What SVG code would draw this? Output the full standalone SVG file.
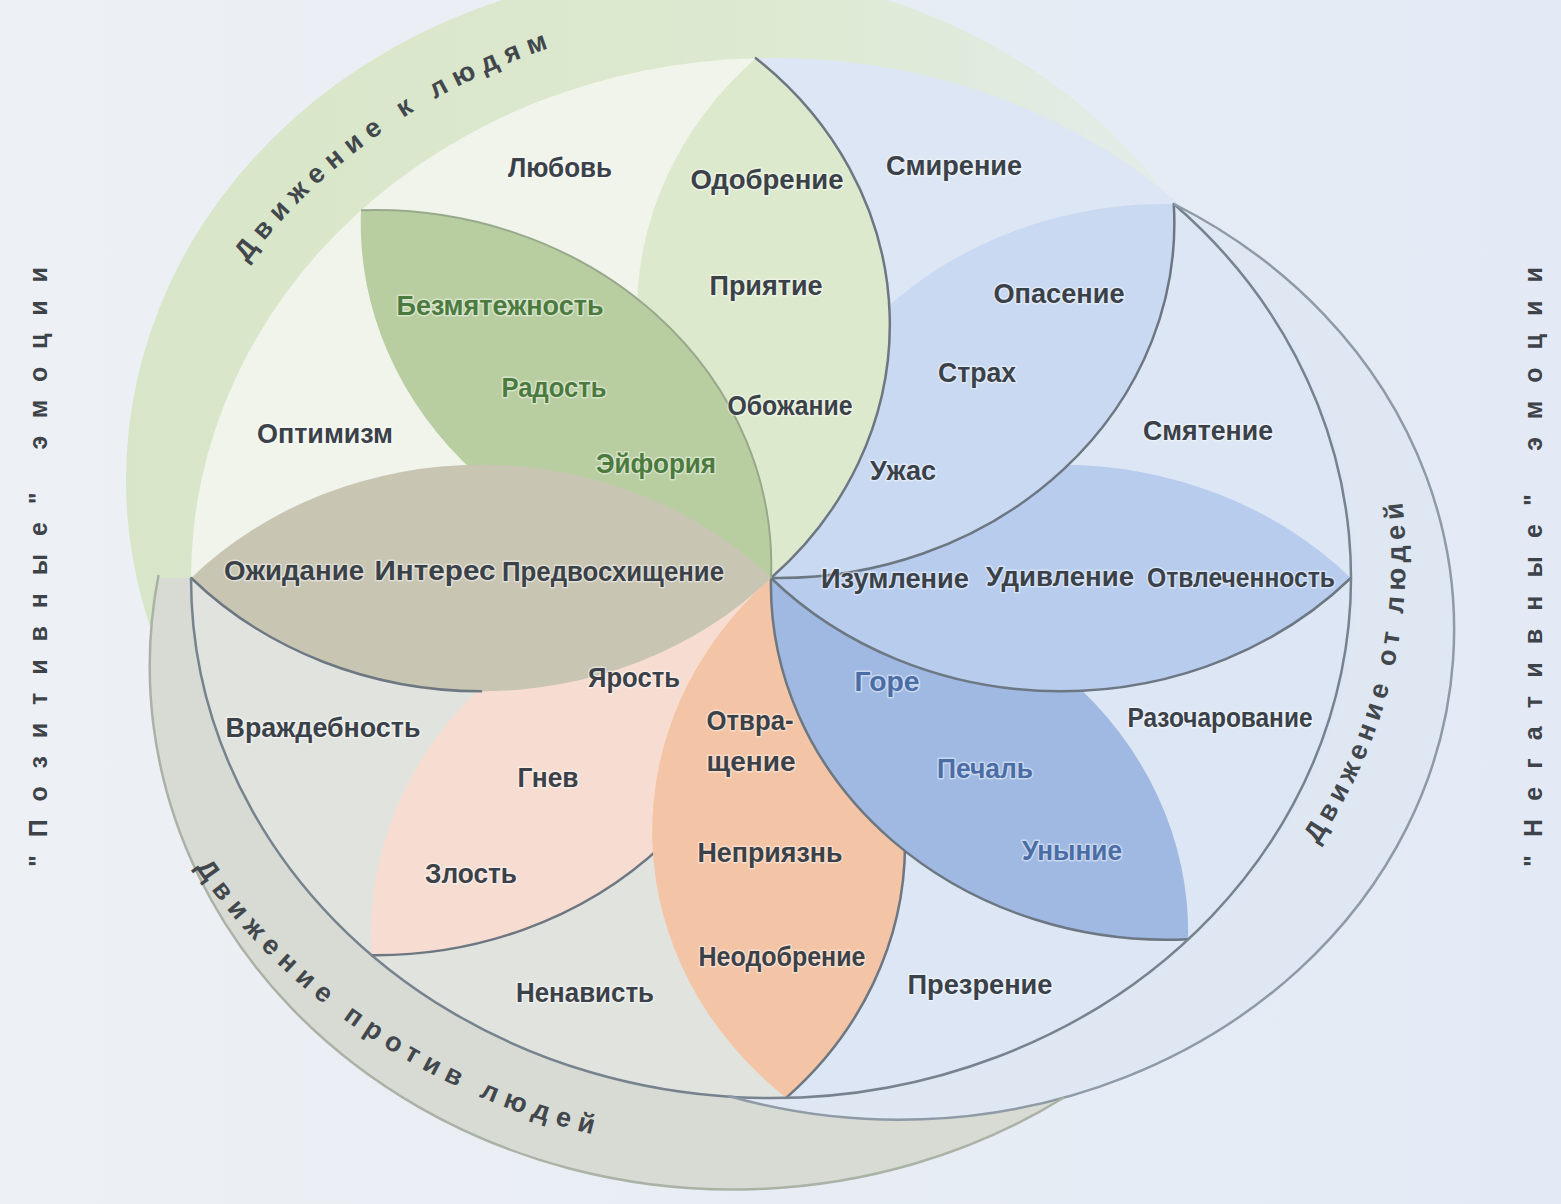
<svg xmlns="http://www.w3.org/2000/svg" width="1561" height="1204" viewBox="0 0 1561 1204">
<defs>
<style>
.lbl{font-family:"Liberation Sans",Arial,sans-serif;font-weight:bold;font-size:27px;fill:#3a4148;text-anchor:middle;stroke:#ffffff;stroke-width:3px;stroke-opacity:0.45;paint-order:stroke;stroke-linejoin:round}
.gr{fill:#4b7a3e}
.bl{fill:#4a6da6}
.curve{font-family:"Liberation Sans",Arial,sans-serif;font-weight:bold;font-size:27px;fill:#41474c}
.side{font-family:"Liberation Sans",Arial,sans-serif;font-weight:bold;font-size:25px;fill:#3d4349}
.edge{fill:none;stroke:#6c7782;stroke-width:2.5;vector-effect:non-scaling-stroke;stroke-linecap:round}
.soft{fill:none;stroke:#97a98a;stroke-width:2;vector-effect:non-scaling-stroke}
.ring{fill:none;stroke-width:2.5}
</style>
<linearGradient id="bg" x1="0" y1="0" x2="1" y2="0">
<stop offset="0" stop-color="#edf0f4"/><stop offset="1" stop-color="#e3eaf5"/>
</linearGradient>
<linearGradient id="greenband" gradientUnits="userSpaceOnUse" x1="120" y1="0" x2="1200" y2="0">
<stop offset="0" stop-color="#d5e4c3"/><stop offset="0.6" stop-color="#dce9cc"/><stop offset="1" stop-color="#e4ecea"/>
</linearGradient>
<clipPath id="clipTop"><rect x="0" y="0" width="1561" height="640"/></clipPath>
<clipPath id="clipBottom"><rect x="0" y="578" width="1561" height="626"/></clipPath>
<path id="petal" d="M0,0 A355,355 0 0,1 520,0 A355,355 0 0,1 0,0 Z"/>
<path id="pTo" d="M182,375 A631,566 0 0,1 683,17.5"/>
<path id="pAgainst" d="M136,757 A676,606 0 0,0 724,1154.5"/>
<path id="pFrom" d="M1247.4,929.4 A615.5,552 0 0,0 1375.4,389.4"/>
</defs>

<rect width="1561" height="1204" fill="url(#bg)"/>

<g id="circle-toward">
<ellipse cx="695" cy="480" rx="569" ry="510" fill="url(#greenband)" opacity="0.9" clip-path="url(#clipTop)"/>
</g>
<g id="circle-against">
<ellipse cx="733.4" cy="666" rx="583.7" ry="523.5" fill="#d8dbd3" clip-path="url(#clipBottom)"/>
</g>
<g id="circle-away">
<path d="M1173.9,204 A555,490 0 0,1 728.5,1096 A580,520 0 0,0 1173.9,204 Z" fill="#dfe7f3"/>
</g>

<g id="wheel-interior">
<path d="M771,578 L191,578 A580,520 0 0,1 755.8,58.2 Z" fill="#f0f4ea"/>
<path d="M771,578 L755.8,58.2 A580,520 0 1,1 786.2,1097.8 Z" fill="#dce6f4"/>
<path d="M771,578 L786.2,1097.8 A580,520 0 0,1 191,578 Z" fill="#e1e4de"/>
</g>

<g id="petal-anger" transform="translate(771,578) scale(1.115,1) rotate(133.5)">
<use href="#petal" fill="#f7ddd1"/>
<path class="edge" d="M0,0 A355,355 0 0,1 520,0"/>
</g>
<g id="petal-disgust" transform="translate(771,578) scale(1.115,1) rotate(88.5)">
<use href="#petal" fill="#f3c4a5"/>
<path class="edge" d="M0,0 A355,355 0 0,1 520,0"/>
</g>
<g id="petal-sadness" transform="translate(771,578) scale(1.115,1) rotate(44)">
<use href="#petal" fill="#a0b9e2"/>
<path class="edge" d="M0,0 A355,355 0 0,0 520,0"/>
</g>
<g id="petal-surprise" transform="translate(771,578) scale(1.115,1) rotate(0)">
<use href="#petal" fill="#b8cdee"/>
<path class="edge" d="M0,0 A355,355 0 0,0 520,0"/>
</g>
<g id="petal-fear" transform="translate(771,578) scale(1.115,1) rotate(314)">
<use href="#petal" fill="#c9d9f1"/>
<path class="edge" d="M0,0 A355,355 0 0,0 520,0"/>
</g>
<g id="petal-trust" transform="translate(771,578) scale(1.115,1) rotate(268.5)">
<use href="#petal" fill="#dde9cd"/>
<path class="edge" d="M0,0 A355,355 0 0,0 520,0"/>
</g>
<g id="petal-joy" transform="translate(771,578) scale(1.115,1) rotate(225)">
<use href="#petal" fill="#b8cea1"/>
<path class="soft" d="M0,0 A355,355 0 0,0 520,0"/>
</g>
<g id="petal-anticipation" transform="translate(771,578) scale(1.115,1) rotate(180)">
<use href="#petal" fill="#c8c5b3"/>
<path class="edge" d="M260,-113.3 A355,355 0 0,1 520,0"/>
</g>

<g id="connectors">
<path class="ring" stroke="#76828d" d="M1173.9,204 A580,520 0 1,1 191,578"/>
<path class="ring" stroke="#8e9aa6" d="M1173.9,204 A555,490 0 0,1 728.5,1096"/>
<path class="ring" stroke="#aab2a6" stroke-width="2" d="M158.6,575.1 A583.7,523.5 0 0,0 1064,1097.5"/>
</g>

<g id="band-labels">
<text class="curve" letter-spacing="8"><textPath href="#pTo" startOffset="50%" text-anchor="middle">Движение к людям</textPath></text>
<text class="curve" letter-spacing="7.8"><textPath href="#pAgainst" startOffset="50%" text-anchor="middle">Движение против людей</textPath></text>
<text class="curve" letter-spacing="5.8"><textPath href="#pFrom" startOffset="50%" text-anchor="middle">Движение от людей</textPath></text>
</g>

<g id="side-labels">
<text class="side" transform="translate(47,867) rotate(-90)" textLength="600" lengthAdjust="spacing">&quot;Позитивные&quot; эмоции</text>
<text class="side" transform="translate(1542,867) rotate(-90)" textLength="600" lengthAdjust="spacing">&quot;Негативные&quot; эмоции</text>
</g>

<g id="labels">
<g id="n-lubov"><text class="lbl" x="560" y="177" textLength="104" lengthAdjust="spacingAndGlyphs">Любовь</text></g>
<g id="n-odobrenie"><text class="lbl" x="767" y="189" textLength="153" lengthAdjust="spacingAndGlyphs">Одобрение</text></g>
<g id="n-smirenie"><text class="lbl" x="954" y="175" textLength="136" lengthAdjust="spacingAndGlyphs">Смирение</text></g>
<g id="n-bezmyat"><text class="lbl gr" x="500" y="315" textLength="207" lengthAdjust="spacingAndGlyphs">Безмятежность</text></g>
<g id="n-priyatie"><text class="lbl" x="766" y="295" textLength="113" lengthAdjust="spacingAndGlyphs">Приятие</text></g>
<g id="n-opasenie"><text class="lbl" x="1059" y="303" textLength="131" lengthAdjust="spacingAndGlyphs">Опасение</text></g>
<g id="n-radost"><text class="lbl gr" x="554" y="397" textLength="105" lengthAdjust="spacingAndGlyphs">Радость</text></g>
<g id="n-strah"><text class="lbl" x="977" y="382" textLength="78" lengthAdjust="spacingAndGlyphs">Страх</text></g>
<g id="n-optimizm"><text class="lbl" x="325" y="443" textLength="136" lengthAdjust="spacingAndGlyphs">Оптимизм</text></g>
<g id="n-obozhanie"><text class="lbl" x="790" y="415" font-size="25" textLength="125" lengthAdjust="spacingAndGlyphs">Обожание</text></g>
<g id="n-smyatenie"><text class="lbl" x="1208" y="440" textLength="130" lengthAdjust="spacingAndGlyphs">Смятение</text></g>
<g id="n-eyforiya"><text class="lbl gr" x="656" y="473" textLength="120" lengthAdjust="spacingAndGlyphs">Эйфория</text></g>
<g id="n-uzhas"><text class="lbl" x="903" y="480" textLength="66" lengthAdjust="spacingAndGlyphs">Ужас</text></g>
<g id="n-ozhidanie"><text class="lbl" x="294" y="580" textLength="140" lengthAdjust="spacingAndGlyphs">Ожидание</text></g>
<g id="n-interes"><text class="lbl" x="435" y="580" textLength="121" lengthAdjust="spacingAndGlyphs">Интерес</text></g>
<g id="n-predvos"><text class="lbl" x="613" y="581" font-size="25" textLength="222" lengthAdjust="spacingAndGlyphs">Предвосхищение</text></g>
<g id="n-izumlenie"><text class="lbl" x="895" y="588" textLength="148" lengthAdjust="spacingAndGlyphs">Изумление</text></g>
<g id="n-udivlenie"><text class="lbl" x="1060" y="586" textLength="148" lengthAdjust="spacingAndGlyphs">Удивление</text></g>
<g id="n-otvlech"><text class="lbl" x="1241" y="587" font-size="24" textLength="188" lengthAdjust="spacingAndGlyphs">Отвлеченность</text></g>
<g id="n-yarost"><text class="lbl" x="634" y="687" textLength="92" lengthAdjust="spacingAndGlyphs">Ярость</text></g>
<g id="n-gore"><text class="lbl bl" x="887" y="691" textLength="65" lengthAdjust="spacingAndGlyphs">Горе</text></g>
<g id="n-vrazhd"><text class="lbl" x="323" y="737" textLength="195" lengthAdjust="spacingAndGlyphs">Враждебность</text></g>
<g id="n-otvrash"><text class="lbl" x="750" y="730" textLength="87" lengthAdjust="spacingAndGlyphs">Отвра-</text><text class="lbl" x="751" y="771" textLength="89" lengthAdjust="spacingAndGlyphs">щение</text></g>
<g id="n-razochar"><text class="lbl" x="1220" y="727" font-size="24" textLength="185" lengthAdjust="spacingAndGlyphs">Разочарование</text></g>
<g id="n-gnev"><text class="lbl" x="548" y="787" textLength="61" lengthAdjust="spacingAndGlyphs">Гнев</text></g>
<g id="n-pechal"><text class="lbl bl" x="985" y="778" textLength="96" lengthAdjust="spacingAndGlyphs">Печаль</text></g>
<g id="n-nepriyazn"><text class="lbl" x="770" y="862" textLength="145" lengthAdjust="spacingAndGlyphs">Неприязнь</text></g>
<g id="n-unynie"><text class="lbl bl" x="1072" y="860" textLength="100" lengthAdjust="spacingAndGlyphs">Уныние</text></g>
<g id="n-zlost"><text class="lbl" x="471" y="883" textLength="92" lengthAdjust="spacingAndGlyphs">Злость</text></g>
<g id="n-neodobr"><text class="lbl" x="782" y="966" textLength="167" lengthAdjust="spacingAndGlyphs">Неодобрение</text></g>
<g id="n-prezrenie"><text class="lbl" x="980" y="994" textLength="145" lengthAdjust="spacingAndGlyphs">Презрение</text></g>
<g id="n-nenavist"><text class="lbl" x="585" y="1002" textLength="138" lengthAdjust="spacingAndGlyphs">Ненависть</text></g>
</g>
</svg>
